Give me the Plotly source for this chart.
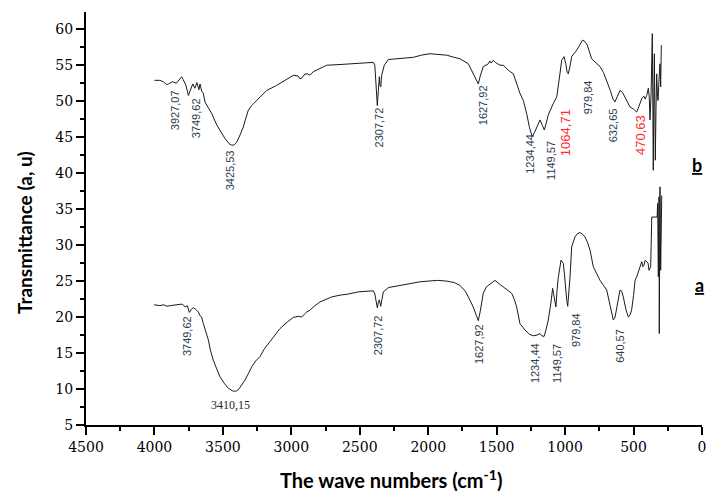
import plotly.graph_objects as go

# ---- Curve b (upper spectrum) ----
wn_b = [4000, 3960, 3935, 3910, 3898, 3870, 3840, 3801, 3790, 3770, 3752, 3735, 3720, 3705, 3690, 3675,
        3667, 3655, 3643, 3631, 3582, 3545, 3510, 3484, 3455, 3436, 3420, 3399, 3375, 3351, 3330, 3314,
        3290, 3253, 3215, 3180, 3107, 3050, 2986, 2950, 2937, 2920, 2900, 2880, 2864, 2840, 2800, 2742,
        2644, 2500, 2401, 2390, 2380, 2372, 2364, 2357, 2352, 2347, 2340, 2321, 2291, 2200, 2109, 2050,
        1987, 1930, 1865, 1810, 1768, 1707, 1682, 1660, 1634, 1620, 1598, 1561, 1550, 1540, 1525, 1510,
        1476, 1451, 1415, 1378, 1354, 1330, 1305, 1281, 1260, 1240, 1225, 1208, 1183, 1165, 1152, 1140,
        1123, 1086, 1061, 1040, 1025, 1008, 995, 985, 977, 965, 952, 915, 890, 872, 855, 838,
        806, 775, 745, 720, 696, 670, 650, 636, 620, 599, 580, 562, 526, 500, 477, 460,
        440, 425, 415, 404, 392, 385, 380, 372, 363, 360, 356, 352, 348, 344, 341, 336,
        331, 326, 321, 314, 307, 302, 297]
t_b = [52.9, 52.9, 52.7, 52.3, 52.4, 52.7, 52.5, 53.4, 53.0, 52.2, 50.8, 51.8, 52.4, 51.8, 52.6, 51.6,
       52.4, 51.4, 51.1, 49.9, 48.3, 46.7, 45.6, 44.8, 44.1, 43.9, 43.9, 44.3, 45.3, 46.4, 47.8, 48.75,
       49.4, 50.1, 50.9, 51.5, 52.2, 52.9, 53.6, 53.5, 53.1, 53.3, 53.8, 53.8, 53.6, 54.1, 54.5, 55.0,
       55.1, 55.3, 55.4, 55.0, 52.0, 49.4, 51.5, 53.4, 52.2, 52.0, 53.6, 55.0, 55.8, 55.9, 56.1, 56.4,
       56.6, 56.5, 56.4, 56.1, 55.9, 55.2, 54.3, 53.3, 52.4, 53.5, 54.8, 55.2, 55.6, 55.3, 55.7, 55.4,
       55.0, 55.0, 54.3, 53.8, 52.4, 51.1, 50.1, 48.3, 46.3, 45.1, 45.6, 46.4, 47.4, 46.6, 46.0, 46.8,
       48.1, 49.7, 50.6, 53.5, 55.7, 56.2, 55.2, 54.0, 53.8, 54.8, 56.2, 57.1, 58.0, 58.5, 58.3, 57.8,
       55.9, 55.3, 54.8, 54.0, 52.9, 51.5, 50.3, 49.9, 50.6, 51.5, 51.2, 50.6, 49.2, 48.9, 48.5, 49.3,
       50.4, 50.7, 50.3, 50.8, 51.8, 50.5, 47.4, 51.0, 59.4, 52.0, 40.4, 50.0, 56.6, 48.0, 41.8, 49.0,
       53.8, 51.0, 50.1, 53.0, 55.2, 52.0, 57.8]

# ---- Curve a (lower spectrum) ----
wn_a = [4003, 3960, 3930, 3911, 3880, 3850, 3801, 3790, 3775, 3760, 3745, 3730, 3716, 3700, 3679, 3668,
        3655, 3643, 3625, 3606, 3590, 3570, 3545, 3521, 3490, 3460, 3424, 3405, 3387, 3365, 3338, 3310,
        3289, 3260, 3229, 3200, 3168, 3120, 3083, 3030, 2986, 2950, 2924, 2905, 2888, 2860, 2840, 2791,
        2705, 2644, 2584, 2511, 2401, 2390, 2380, 2372, 2365, 2357, 2347, 2338, 2328, 2291, 2200, 2133,
        2060, 2000, 1930, 1865, 1810, 1768, 1730, 1707, 1671, 1650, 1634, 1620, 1610, 1598, 1575, 1561,
        1535, 1512, 1480, 1451, 1420, 1390, 1370, 1354, 1330, 1310, 1293, 1260, 1232, 1205, 1183, 1170,
        1154, 1140, 1123, 1105, 1091, 1085, 1079, 1072, 1067, 1060, 1050, 1030, 1013, 1005, 996, 988,
        981, 972, 964, 952, 928, 910, 891, 872, 855, 835, 818, 794, 770, 745, 720, 696,
        670, 655, 648, 635, 620, 605, 599, 587, 575, 555, 538, 525, 514, 500, 489, 477,
        460, 440, 432, 424, 415, 404, 394, 387, 375, 367, 340, 331, 328, 324, 321, 319,
        316, 314, 312, 310, 307, 302, 298, 294]
t_a = [21.7, 21.6, 21.7, 21.5, 21.6, 21.7, 21.8, 21.7, 21.4, 21.6, 20.65, 21.1, 21.3, 21.1, 20.7, 20.2,
       20.0, 19.1, 18.0, 16.8, 15.3, 14.0, 12.8, 11.7, 10.8, 10.1, 9.7, 9.7, 9.9, 10.5, 11.25, 12.3,
       13.1, 13.9, 14.5, 15.5, 16.3, 17.6, 18.4, 19.3, 19.95, 20.1, 20.0, 20.4, 20.7, 21.0, 21.4, 22.1,
       22.8, 23.05, 23.2, 23.5, 23.65, 23.2, 22.0, 21.3, 22.0, 22.4, 21.5, 22.5, 23.5, 24.1, 24.4, 24.7,
       24.9, 25.0, 25.1, 25.0, 24.8, 24.4, 23.6, 22.8, 21.4, 20.3, 19.5, 20.8, 22.0, 23.3, 24.2, 24.4,
       24.8, 25.1, 24.6, 24.2, 23.8, 23.3, 22.4, 21.4, 19.1, 18.6, 18.2, 17.6, 17.4, 17.5, 17.7, 17.4,
       17.3, 18.2, 19.6, 21.8, 24.0, 23.3, 22.8, 22.0, 21.4, 23.5, 25.5, 27.9, 27.45, 26.0, 23.75, 22.3,
       21.5, 23.5, 25.6, 29.75, 31.15, 31.6, 31.75, 31.5, 31.15, 30.3, 29.3, 27.0, 26.0, 25.1, 24.4, 23.75,
       21.5, 20.0, 19.6, 20.0, 21.8, 23.4, 23.75, 23.6, 22.8, 21.0, 20.0, 20.3, 21.0, 23.0, 25.1, 25.6,
       26.5, 27.7, 27.0, 27.2, 27.9, 27.7, 27.5, 26.5, 27.0, 33.9, 33.9, 33.9, 33.9, 35.8, 31.0, 25.6,
       33.0, 36.7, 17.7, 30.0, 38.1, 26.5, 33.0, 36.9]

# ---- Peak labels ----
lab_b_text = ["3927,07", "3749,62", "3425,53", "2307,72", "1627,92", "1234,44", "1149,57",
              "1064,71", "979,84", "632,65", "470,63"]
lab_b_x = [3850, 3691, 3448, 2357, 1602, 1256, 1098, 1001, 830, 648, 453]
lab_b_y = [48.75, 47.6, 40.4, 46.4, 49.4, 42.7, 41.8, 45.7, 50.6, 46.7, 45.3]
lab_b_red = [False, False, False, False, False, False, False, True, False, False, True]

lab_a_text = ["3749,62", "2307,72", "1627,92", "1234,44", "1149,57", "979,84", "640,57"]
lab_a_x = [3765, 2365, 1634, 1220, 1061, 920, 599]
lab_a_y = [17.3, 17.5, 16.3, 13.6, 13.6, 18.2, 16.0]

x_ticks = [4500, 4000, 3500, 3000, 2500, 2000, 1500, 1000, 500, 0]
y_ticks = [5, 10, 15, 20, 25, 30, 35, 40, 45, 50, 55, 60]

fig = go.Figure()
fig.add_trace(go.Scatter(x=wn_b, y=t_b, mode="lines", line=dict(color="#1a1a1a", width=1), showlegend=False))
fig.add_trace(go.Scatter(x=wn_a, y=t_a, mode="lines", line=dict(color="#1a1a1a", width=1), showlegend=False))

label_font = "Liberation Sans Narrow, Liberation Sans, Arial Narrow, sans-serif"
title_font = "Lato, Open Sans, DejaVu Sans, sans-serif"
annotations = []
for t, x, y, red in zip(lab_b_text, lab_b_x, lab_b_y, lab_b_red):
    annotations.append(dict(x=x, y=y, xref="x", yref="y", text=t, showarrow=False, textangle=-90,
                            font=dict(family=label_font, size=13 if red else 11,
                                      color="#ff2a2a" if red else "#2f3d4c")))
for t, x, y in zip(lab_a_text, lab_a_x, lab_a_y):
    annotations.append(dict(x=x, y=y, xref="x", yref="y", text=t, showarrow=False, textangle=-90,
                            font=dict(family=label_font, size=11, color="#2f3d4c")))
annotations.append(dict(x=3448, y=7.8, xref="x", yref="y", text="3410,15", showarrow=False,
                        font=dict(family="Liberation Serif, serif", size=12, color="#222222")))
annotations.append(dict(x=39, y=41.1, xref="x", yref="y", text="<b><u>b</u></b>", showarrow=False,
                        font=dict(family=title_font, size=18, color="#000000")))
annotations.append(dict(x=15, y=24.4, xref="x", yref="y", text="<b><u>a</u></b>", showarrow=False,
                        font=dict(family=title_font, size=18, color="#000000")))
# axis titles
annotations.append(dict(x=-0.099, y=0.465, xref="paper", yref="paper", text="<b>Transmittance (a, u)</b>",
                        showarrow=False, textangle=-90, xanchor="center", yanchor="middle",
                        font=dict(family=title_font, size=19, color="#000000")))
annotations.append(dict(x=0.495, y=-0.131, xref="paper", yref="paper",
                        text="<b>The wave numbers (cm<sup>-1</sup>)</b>",
                        showarrow=False, xanchor="center", yanchor="middle",
                        font=dict(family=title_font, size=20, color="#000000")))

tick_font = dict(family="DejaVu Serif, Liberation Serif, serif", size=14, color="#000000")
fig.update_layout(
    width=706, height=492,
    margin=dict(l=86, r=4, t=12, b=67, autoexpand=False),
    plot_bgcolor="white", paper_bgcolor="white",
    annotations=annotations,
    xaxis=dict(range=[4500, 0], tickmode="array", tickvals=x_ticks, ticktext=[str(v) for v in x_ticks],
               showgrid=False, zeroline=False, showline=True, linecolor="#000000", linewidth=2,
               ticks="outside", ticklen=8, tickwidth=1.5, tickcolor="#000000", tickfont=tick_font,
               ticklabeloverflow="allow", automargin=False,
               minor=dict(ticks="outside", ticklen=4, tickwidth=1.5, tickcolor="#000000", dtick=250,
                          tick0=0, showgrid=False)),
    yaxis=dict(range=[5, 62.4], tickmode="array", tickvals=y_ticks, ticktext=[str(v) for v in y_ticks],
               showgrid=False, zeroline=False, showline=True, linecolor="#000000", linewidth=2,
               ticks="outside", ticklen=8, tickwidth=1.5, tickcolor="#000000", tickfont=tick_font,
               ticklabeloverflow="allow", automargin=False,
               minor=dict(ticks="outside", ticklen=4, tickwidth=1.5, tickcolor="#000000", dtick=2.5,
                          tick0=0, showgrid=False)),
)

# remove the default page margin so the 706x492 figure fills the window exactly
fig.write_html("out.html", config={"displayModeBar": False},
               post_script="document.body.style.margin='0px';document.body.style.overflow='hidden';")
